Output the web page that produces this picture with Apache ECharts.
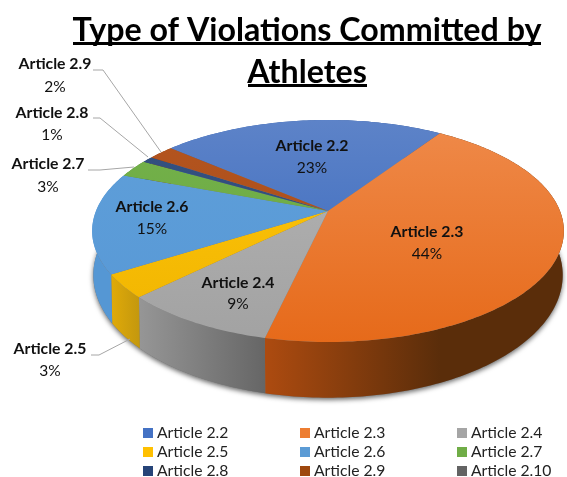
<!DOCTYPE html>
<html><head><meta charset="utf-8">
<style>html,body{margin:0;padding:0;background:#fff}#c{width:567px;height:477px}</style>
<script src="https://cdn.jsdelivr.net/npm/echarts@6/dist/echarts.min.js"></script>
</head><body><div id="c"></div>
<script>
const categories = ['Article 2.2','Article 2.3','Article 2.4','Article 2.5','Article 2.6','Article 2.7','Article 2.8','Article 2.9','Article 2.10'];
const values = [23,44.2,9,3.4,14.7,2.6,0.9,2.1,0];
const legendColors = ['#4472c4','#ed7d31','#a5a5a5','#ffc000','#5b9bd5','#70ad47','#264478','#9e480e','#636363'];
const topStops = [['#5d83c8','#3566bd'],['#ef8a4a','#e66a1a'],['#b4b4b4','#a2a2a2'],['#ffc60a','#f0b400'],['#5f9fd9','#5798d6'],['#74b14a','#69a842'],['#34517f','#2c4a80'],['#b4551f','#a84a18'],['#666','#666']];
const wallStops = [['#3a66b5','#2a4f90'],['#ad4b10','#5a2d0a'],['#969696','#666666'],['#e0aa08','#c4980e'],['#5597d4','#3f80c0'],['#5f9a3c','#4d8030'],['#223a66','#223a66'],['#8a3e0c','#8a3e0c'],['#555','#555']];
const labelAt = [[312,146,168],[427,232,254],[238,283,304],[50,349,371],[152,207,229],[48,164,187],[52,113,135],[55,64,87],null];
const leaders = [null,null,null,[[91,355],[99,355],[130,339]],null,[[88,170],[100,170],[134,167]],[[93,118],[100,118],[148,157]],[[93,70],[103,70],[161,152]],null];

const FONT = 'Lato';
const startDeg = -49.2, cx = 328, cy = 211, A = 232, B = 107.4, m = 0.18;
const depth = 42, depthScale = 1.105, bottomX = 0.995;
const total = values.reduce((a,b)=>a+b,0);
function topPt(d){const t=d*Math.PI/180,x=Math.sin(t),y=-Math.cos(t),w=1-m*y;return [cx+A*x/w,cy+B*y/w];}
function botPt(d){const t=d*Math.PI/180,x=Math.sin(t),y=-Math.cos(t),w=1-m*y;return [cx+A*bottomX*x/w,cy+depth+B*depthScale*y/w];}
function arc(f,a,b){const p=[],n=Math.max(2,Math.ceil(Math.abs(b-a)));for(let i=0;i<=n;i++)p.push(f(a+(b-a)*i/n));return p;}
function grad(x,y,x2,y2,c){return new echarts.graphic.LinearGradient(x,y,x2,y2,[{offset:0,color:c[0]},{offset:1,color:c[1]}],true);}
function txt(s,x,y,bold){return {type:'text',z2:5,silent:true,style:{text:s,x:x,y:y,align:'center',verticalAlign:'middle',fontFamily:FONT,fontSize:bold?15.8:15.5,fontWeight:bold?'bold':'normal',fill:'#111'}};}

function render(i){return function(params,api){
  const v=api.value(0), kids=[];
  let a=startDeg; for(let k=0;k<i;k++) a+=values[k]/total*360;
  const b=a+v/total*360;
  if(i===0){kids.push({type:'polygon',z2:0,silent:true,shape:{points:arc(botPt,0,360)},style:{fill:'#777',shadowBlur:5,shadowColor:'rgba(0,0,0,0.6)',shadowOffsetY:2}});}
  if(v>0){
    const tp=arc(topPt,a,b), bp=arc(botPt,a,b);
    kids.push({type:'polygon',z2:1,silent:true,shape:{points:tp.concat(bp.slice().reverse())},
      style:{fill:grad(Math.min(tp[0][0],tp[tp.length-1][0]),0,Math.max(tp[0][0],tp[tp.length-1][0]),0,wallStops[i])}});
    kids.push({type:'polygon',z2:2,silent:true,shape:{points:[[cx,cy]].concat(tp)},style:{fill:grad(0,120,0,342,topStops[i])}});
    const l=labelAt[i];
    if(l){kids.push(txt(categories[i],l[0],l[1],true));kids.push(txt(Math.round(v)+'%',l[0],l[2],false));}
    if(leaders[i]){kids.push({type:'polyline',z2:4,silent:true,shape:{points:leaders[i]},style:{stroke:'#a6a6a6',lineWidth:1,fill:null}});}
  }
  return {type:'group',children:kids};
};}

const chart = echarts.init(document.getElementById('c'),null,{renderer:'canvas'});
const legendBase = {orient:'vertical',itemWidth:10,itemHeight:10,itemGap:3,icon:'rect',selectedMode:false,padding:0,height:80,
  textStyle:{fontFamily:FONT,fontSize:15.7,color:'#222',padding:[0,0,0,-1]}};
chart.setOption({
  animation:false,
  title:{text:'Type of Violations Committed by\nAthletes',left:302,top:5,textAlign:'center',
    textStyle:{fontFamily:FONT,fontWeight:'bold',fontSize:32.2,lineHeight:42,color:'#000'}},
  legend:[0,1,2].map(c=>Object.assign({},legendBase,{left:[143,300,457][c],top:425,data:categories.filter((_,k)=>k%3===c)})),
  graphic:[
    {type:'rect',silent:true,shape:{x:73,y:42,width:468,height:3},style:{fill:'#000'}},
    {type:'rect',silent:true,shape:{x:248,y:84,width:119,height:3},style:{fill:'#000'}}
  ],
  series:categories.map((name,i)=>({type:'custom',name:name,coordinateSystem:'none',silent:true,clip:false,
    itemStyle:{color:legendColors[i]},data:[[values[i]]],renderItem:render(i)}))
});
</script></body></html>
